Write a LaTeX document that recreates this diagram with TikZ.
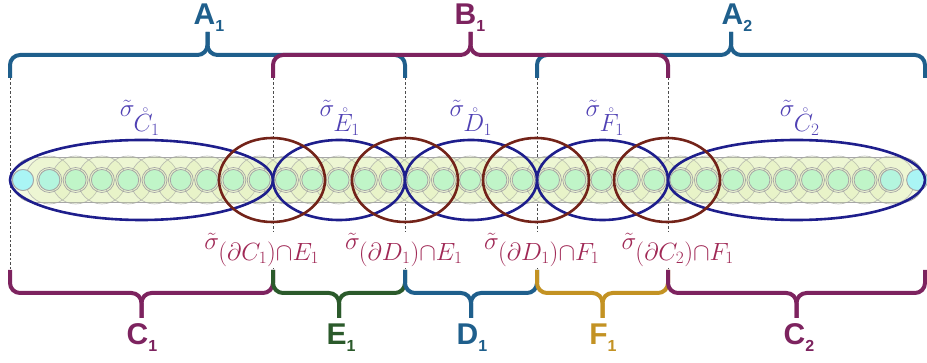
\documentclass[tikz,border=0pt]{standalone}
\usepackage{fontspec}
\newfontfamily\labfont{Liberation Sans}
\DeclareMathSizes{25}{25}{24}{17}
\DeclareMathSizes{28}{28}{25}{18}
\definecolor{cA}{RGB}{31,95,140}
\definecolor{cB}{RGB}{125,35,95}
\definecolor{cE}{RGB}{43,90,43}
\definecolor{cF}{RGB}{195,146,35}
\definecolor{cEll}{RGB}{30,30,140}
\definecolor{cBrown}{RGB}{115,35,25}
\definecolor{cTop}{RGB}{80,65,180}
\definecolor{cBot}{RGB}{160,40,85}
\definecolor{bandfill}{RGB}{243,249,224}
\definecolor{bigfill}{RGB}{215,235,160}
\definecolor{beadgreen}{RGB}{192,245,200}
\definecolor{beadcyan}{RGB}{170,245,245}
\definecolor{beadteal}{RGB}{180,245,222}
\newcommand{\blab}[2]{{\labfont\bfseries\fontsize{30}{30}\selectfont #1\lower7pt\hbox{\fontsize{16}{16}\selectfont #2}}}
\newcommand{\upbr}[3]{%
  \draw[#1] (#2,78) -- (#2,55) -- ({(#2+#3)/2},55) -- ({(#2+#3)/2},32);
  \draw[#1] (#3,78) -- (#3,55) -- ({(#2+#3)/2},55) -- ({(#2+#3)/2},32);}
\newcommand{\dnbr}[3]{%
  \draw[#1] (#2,270) -- (#2,293) -- ({(#2+#3)/2},293) -- ({(#2+#3)/2},318);
  \draw[#1] (#3,270) -- (#3,293) -- ({(#2+#3)/2},293) -- ({(#2+#3)/2},318);}
\tikzset{
  bracebase/.style={line width=4pt, rounded corners=10pt},
  guide/.style={draw=black!70, line width=0.7pt, dash pattern=on 2.5pt off 2pt},
  band/.style={fill=bandfill, draw=black!35, line width=0.8pt},
  bigc/.style={fill=bigfill, fill opacity=0.2, draw=black!35, draw opacity=0.7, line width=0.7pt},
  ring/.style={draw=black!35, line width=0.7pt},
  bead/.style={fill=beadgreen, draw=black!35, line width=0.8pt},
  blueell/.style={draw=cEll, line width=2.6pt},
  brownell/.style={draw=cBrown, line width=2.6pt},
  toplab/.style={text=cTop, fill=white, inner sep=1.5pt, font=\fontsize{25}{28}\selectfont},
  botlab/.style={text=cBot, fill=white, inner sep=1.5pt, font=\fontsize{28}{30}\selectfont},
  brlab/.style={inner sep=0pt, anchor=base},
}
\begin{document}
\begin{tikzpicture}[x=1pt,y=-1pt]
\useasboundingbox (0,0) rectangle (927,363);
% dashed guides
\foreach \xx in {10,273,405,537,668}
  \draw[guide] (\xx,78) -- (\xx,270);
% chain of beads
\draw[band, rounded corners=22.5pt] (12,157.5) rectangle (924,202.5);
\foreach \i in {1,...,33}
  \draw[bigc] ({23+26.3*\i},180) circle[radius=24pt];
\foreach \i in {1,...,33}
  \draw[ring] ({23+26.3*\i},180) circle[radius=12.5pt];
\foreach \i in {0,...,34}
  \draw[bead] ({23+26.3*\i},180) circle[radius=10.5pt];
\draw[bead, fill=beadcyan] (23,180) circle[radius=10.5pt];
\draw[bead, fill=beadcyan] (917.2,180) circle[radius=10.5pt];
\draw[bead, fill=beadteal] (49.3,180) circle[radius=10.5pt];
\draw[bead, fill=beadteal] (890.9,180) circle[radius=10.5pt];
% blue ellipses
\draw[blueell] (141.5,180) ellipse[x radius=131.5pt, y radius=40pt];
\draw[blueell] (339,180) ellipse[x radius=66pt, y radius=40pt];
\draw[blueell] (471,180) ellipse[x radius=66pt, y radius=40pt];
\draw[blueell] (602.5,180) ellipse[x radius=65.5pt, y radius=40pt];
\draw[blueell] (796.5,180) ellipse[x radius=128.5pt, y radius=40pt];
% brown ellipses
\draw[brownell] (272,180) ellipse[x radius=53pt, y radius=42pt];
\draw[brownell] (405,180) ellipse[x radius=53pt, y radius=42pt];
\draw[brownell] (536,180) ellipse[x radius=53pt, y radius=42pt];
\draw[brownell] (667,180) ellipse[x radius=53pt, y radius=42pt];
% top braces
\upbr{bracebase, draw=cA}{10}{405}
\upbr{bracebase, draw=cA}{537}{925}
\upbr{bracebase, draw=cB}{273}{668}
% bottom braces
\dnbr{bracebase, draw=cB}{10}{273}
\dnbr{bracebase, draw=cE}{273}{405}
\dnbr{bracebase, draw=cA}{405}{537}
\dnbr{bracebase, draw=cF}{537}{668}
\dnbr{bracebase, draw=cB}{668}{925}
% brace labels
\node[brlab, text=cA] (lA1) at (209,25) {\blab{A}{1}};
\node[brlab, text=cB] (lB1) at (470,25) {\blab{B}{1}};
\node[brlab, text=cA] (lA2) at (737,25) {\blab{A}{2}};
\node[brlab, text=cB] (lC1) at (142,345) {\blab{C}{1}};
\node[brlab, text=cE] (lE1) at (341,345) {\blab{E}{1}};
\node[brlab, text=cA] (lD1) at (472,345) {\blab{D}{1}};
\node[brlab, text=cF] (lF1) at (603,345) {\blab{F}{1}};
\node[brlab, text=cB] (lC2) at (799,345) {\blab{C}{2}};
% sigma labels, top
\node[toplab, anchor=base] (sC1) at (140,117) {$\tilde{\sigma}_{\mathring{C}_1}$};
\node[toplab, anchor=base] (sE1) at (340,117) {$\tilde{\sigma}_{\mathring{E}_1}$};
\node[toplab, anchor=base] (sD1) at (471,117) {$\tilde{\sigma}_{\mathring{D}_1}$};
\node[toplab, anchor=base] (sF1) at (605,117) {$\tilde{\sigma}_{\mathring{F}_1}$};
\node[toplab, anchor=base] (sC2) at (800,117) {$\tilde{\sigma}_{\mathring{C}_2}$};
% sigma labels, bottom
\node[botlab, anchor=base] (iCE) at (262,250) {$\tilde{\sigma}_{(\partial C_1)\cap E_1}$};
\node[botlab, anchor=base] (iDE) at (404,250) {$\tilde{\sigma}_{(\partial D_1)\cap E_1}$};
\node[botlab, anchor=base] (iDF) at (542,250) {$\tilde{\sigma}_{(\partial D_1)\cap F_1}$};
\node[botlab, anchor=base] (iCF) at (678,250) {$\tilde{\sigma}_{(\partial C_2)\cap F_1}$};
\end{tikzpicture}
\end{document}
